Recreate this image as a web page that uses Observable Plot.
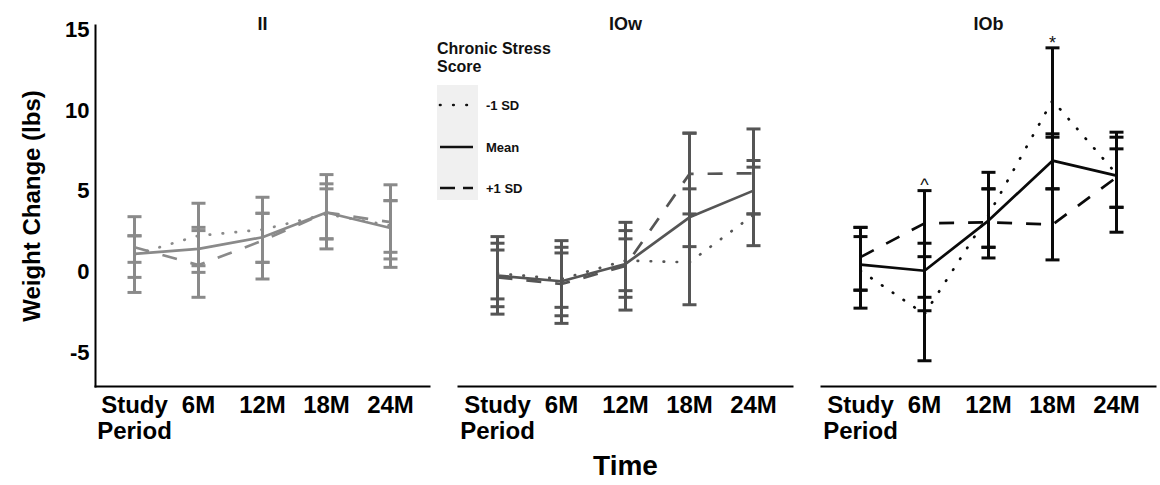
<!DOCTYPE html>
<html>
<head>
<meta charset="utf-8">
<script src="https://cdn.jsdelivr.net/npm/d3@7"></script>
<script src="https://cdn.jsdelivr.net/npm/@observablehq/plot@0.6"></script>
<style>
  html, body { margin: 0; padding: 0; background: #fff; }
  #wrap { position: relative; width: 1160px; height: 485px; font-family: "Liberation Sans", Arial, sans-serif; }
  #wrap svg g[aria-label="x-axis label"] text { font-size: 28px; }
  #wrap svg g[aria-label="y-axis label"] text { font-size: 24px; }
  .lg-title { position: absolute; left: 437px; top: 40px; font: bold 16px/18px "Liberation Sans", Arial, sans-serif; color: #111; }
  .lg-box { position: absolute; left: 437px; top: 85px; width: 41px; height: 115px; background: #f0f0f0; }
  .lg-row { position: absolute; left: 438px; height: 20px; display: flex; align-items: center; }
  .lg-row span { margin-left: 12px; font: bold 13px "Liberation Sans", Arial, sans-serif; color: #111; }
</style>
</head>
<body>
<div id="wrap"></div>
<script>
// ---- categories ----
const panels = ["II", "IOw", "IOb"];
const times = ["Study\nPeriod", "6M", "12M", "18M", "24M"];
const seriesNames = ["-1 SD", "Mean", "+1 SD"];

// ---- II (means, lower and upper error-bar ends) ----
const II_minus    = [1.09, 2.27, 2.64, 3.60, 2.89];
const II_mean     = [1.14, 1.45, 2.17, 3.70, 2.74];
const II_plus     = [1.55, 0.45, 1.96, 3.70, 3.10];
const II_minusLo  = [-0.31, 0.00, 0.62, 2.07, 0.83];
const II_minusHi  = [2.26, 2.78, 3.65, 5.47, 4.43];
const II_meanLo   = [-1.24, -1.54, -0.41, 1.45, 0.31];
const II_meanHi   = [3.44, 4.27, 4.64, 6.04, 5.41];
const II_plusLo   = [0.62, 0.41, 0.62, 2.07, 1.24];
const II_plusHi   = [2.26, 2.58, 3.65, 5.16, 4.43];

// ---- IOw ----
const IOw_minus   = [-0.06, -0.41, 0.73, 0.62, 3.55];
const IOw_mean    = [-0.20, -0.55, 0.52, 3.40, 5.05];
const IOw_plus    = [-0.31, -0.72, 0.40, 6.08, 6.12];
const IOw_minusLo = [-2.12, -2.68, -1.54, 1.59, 3.61];
const IOw_minusHi = [1.80, 1.55, 2.58, 5.16, 6.50];
const IOw_meanLo  = [-2.58, -3.15, -2.33, -2.00, 1.65];
const IOw_meanHi  = [2.21, 1.96, 3.09, 8.60, 8.86];
const IOw_plusLo  = [-1.64, -2.16, -1.13, 3.61, 3.61];
const IOw_plusHi  = [1.38, 1.20, 2.07, 8.60, 6.91];

// ---- IOb ----
const IOb_minus   = [0.10, -2.58, 3.55, 10.62, 6.08];
const IOb_mean    = [0.48, 0.10, 3.20, 6.90, 5.98];
const IOb_plus    = [0.94, 3.03, 3.09, 2.95, 5.87];
const IOb_minusLo = [-1.10, -2.37, 1.55, 5.16, 4.02];
const IOb_minusHi = [2.21, 0.97, 5.16, 8.56, 8.35];
const IOb_meanLo  = [-2.21, -5.46, 0.89, 0.77, 2.48];
const IOb_meanHi  = [2.78, 5.05, 6.18, 13.87, 8.66];
const IOb_plusLo  = [-1.10, -1.54, 1.55, 5.16, 4.02];
const IOb_plusHi  = [2.78, 1.80, 5.16, 8.35, 7.63];

// ---- significance marks (placed above the Mean error bar) ----
const notePanels = ["IOb", "IOb"];
const noteTimes = ["6M", "18M"];
const noteLabels = ["^", "*"];

const yTicks = [-5, 0, 5, 10, 15];

// ---- styles ----
const panelColors = {"II": "#8a8a8a", "IOw": "#555555", "IOb": "#0a0a0a"};
const dashes = {"-1 SD": "0.5 12.5", "Mean": null, "+1 SD": "15 14"};
const capSymbol = {draw(ctx) { ctx.moveTo(-7, 0); ctx.lineTo(7, 0); }};

// ---- build table ----
const source = {
  "II":  {"-1 SD": [II_minus, II_minusLo, II_minusHi], "Mean": [II_mean, II_meanLo, II_meanHi], "+1 SD": [II_plus, II_plusLo, II_plusHi]},
  "IOw": {"-1 SD": [IOw_minus, IOw_minusLo, IOw_minusHi], "Mean": [IOw_mean, IOw_meanLo, IOw_meanHi], "+1 SD": [IOw_plus, IOw_plusLo, IOw_plusHi]},
  "IOb": {"-1 SD": [IOb_minus, IOb_minusLo, IOb_minusHi], "Mean": [IOb_mean, IOb_meanLo, IOb_meanHi], "+1 SD": [IOb_plus, IOb_plusLo, IOb_plusHi]}
};
const rows = [];
for (const p of panels) for (const s of seriesNames) {
  const [m, lo, hi] = source[p][s];
  times.forEach((t, i) => rows.push({panel: p, series: s, time: t, mean: m[i], lo: lo[i], hi: hi[i], color: panelColors[p]}));
}
const notes = noteLabels.map((lab, i) => {
  const r = rows.find(d => d.panel === notePanels[i] && d.time === noteTimes[i] && d.series === "Mean");
  return {panel: notePanels[i], time: noteTimes[i], label: lab, y: r.hi};
});

const lineMarks = seriesNames.map(s => Plot.line(rows.filter(d => d.series === s), {
  fx: "panel", x: "time", y: "mean", z: "panel", stroke: "color",
  strokeWidth: 2.7, strokeDasharray: dashes[s], strokeLinecap: s === "-1 SD" ? "round" : "butt"
}));

const chart = Plot.plot({
  width: 1160, height: 485,
  marginLeft: 95, marginRight: 5, marginTop: 25, marginBottom: 99,
  style: {fontFamily: '"Liberation Sans", Arial, sans-serif', color: "#000", background: "transparent"},
  fx: {domain: panels, paddingInner: 0.08, paddingOuter: 0, axis: null, label: null},
  x: {type: "point", domain: times, padding: 0.6},
  y: {domain: [-7.05, 15.25]},
  marks: [
    Plot.frame({anchor: "bottom", stroke: "#000", strokeWidth: 2}),
    Plot.frame({anchor: "left", stroke: "#000", strokeWidth: 2, facetAnchor: "left"}),
    Plot.ruleX(rows, {fx: "panel", x: "time", y1: "lo", y2: "hi", stroke: "color", strokeWidth: 3}),
    Plot.dot(rows, {fx: "panel", x: "time", y: "lo", stroke: "color", strokeWidth: 3, fill: "none", symbol: capSymbol, r: 4}),
    Plot.dot(rows, {fx: "panel", x: "time", y: "hi", stroke: "color", strokeWidth: 3, fill: "none", symbol: capSymbol, r: 4}),
    ...lineMarks,
    Plot.text(panels, {fx: d => d, text: d => d, frameAnchor: "top", dy: -8, fontSize: 18, fontWeight: "bold", fill: "#111"}),
    Plot.text(notes, {fx: "panel", x: "time", y: "y", text: "label", fontSize: 18, dy: -5, fill: "#111"}),
    Plot.axisX({tickSize: 0, tickPadding: 8, fontSize: 24, fontWeight: "bold", lineHeight: 1.08,
      label: "Time", labelAnchor: "center", labelOffset: 88}),
    Plot.axisY({ticks: yTicks, tickFormat: d => `${d}`, tickSize: 0, tickPadding: 6, fontSize: 22, fontWeight: "bold",
      label: "Weight Change (lbs)", labelAnchor: "center", labelArrow: "none", labelOffset: 73})
  ]
});
const wrap = document.getElementById("wrap");
wrap.appendChild(chart);

// ---- legend ----
const lt = document.createElement("div");
lt.className = "lg-title";
lt.innerHTML = "Chronic Stress<br>Score";
wrap.appendChild(lt);
const box = document.createElement("div");
box.className = "lg-box";
wrap.appendChild(box);
const legendDash = {"-1 SD": "0.5 12.7", "Mean": "none", "+1 SD": "15 8"};
const rowCenters = [105, 147, 188];
seriesNames.forEach((s, i) => {
  const r = document.createElement("div");
  r.className = "lg-row";
  r.style.top = (rowCenters[i] - 10) + "px";
  r.innerHTML = `<svg width="36" height="10"><line x1="2" x2="35" y1="5" y2="5" stroke="#111" stroke-width="2.7"
    stroke-dasharray="${legendDash[s]}" stroke-linecap="${s === "-1 SD" ? "round" : "butt"}"/></svg><span>${s}</span>`;
  wrap.appendChild(r);
});
</script>
</body>
</html>
